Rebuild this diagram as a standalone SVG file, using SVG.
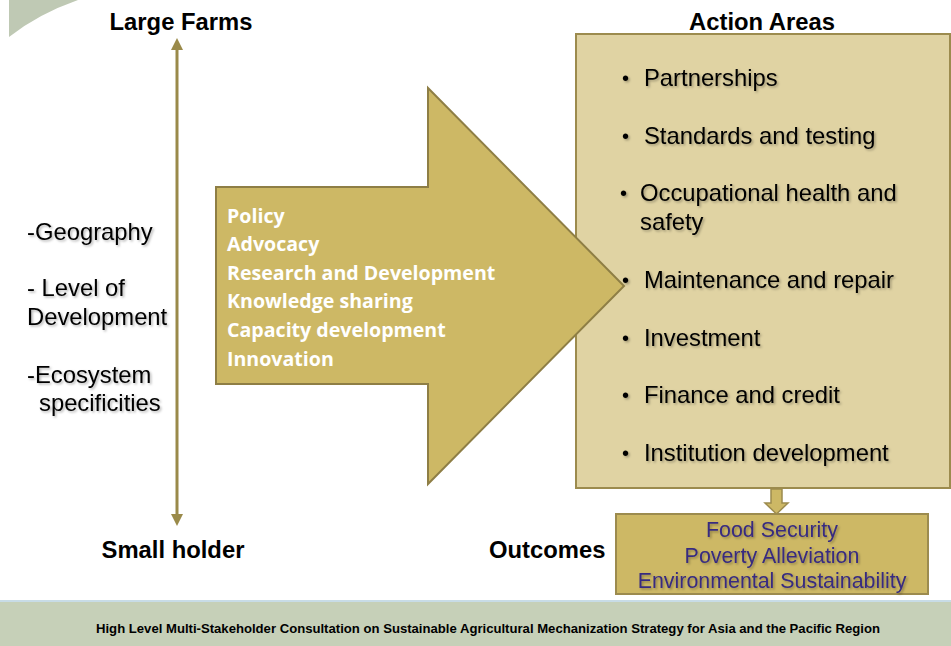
<svg xmlns="http://www.w3.org/2000/svg" width="951" height="646" viewBox="0 0 951 646">
  <defs>
    <filter id="shadow" x="-10%" y="-20%" width="130%" height="160%">
      <feDropShadow dx="1.5" dy="1.5" stdDeviation="0.8" flood-color="#000" flood-opacity="0.3"/>
    </filter>
    <marker id="head" viewBox="0 0 10 10" refX="5" refY="5" markerWidth="4" markerHeight="4" orient="auto-start-reverse" markerUnits="strokeWidth">
      <path d="M0,0 L10,5 L0,10 z" fill="#9a8a4a"/>
    </marker>
  </defs>
  <style>
    .hdr { font-family: "Liberation Sans", Arial, sans-serif; font-weight: bold; font-size: 23.8px; fill: #000; }
    .lbl { font-family: "Liberation Sans", Arial, sans-serif; font-size: 23.8px; fill: #000; }
    .bul { font-family: "Liberation Sans", Arial, sans-serif; font-size: 20px; fill: #000; }
    .drv { font-family: "Open Sans", "Noto Sans", sans-serif; font-weight: bold; font-size: 19.6px; fill: #fff; }
    .out { font-family: "Liberation Sans", Arial, sans-serif; font-size: 21.4px; fill: #372c80; text-anchor: middle; }
    .foot { font-family: "Liberation Sans", Arial, sans-serif; font-weight: bold; font-size: 12px; fill: #000; }
  </style>

  <rect width="951" height="646" fill="#fff"/>

  <!-- corner ornament -->
  <path d="M9,0 L78,0 Q38,14 9,37 Z" fill="#bfc9b4"/>

  <!-- scale headings -->
  <text class="hdr" x="181" y="30" text-anchor="middle">Large Farms</text>
  <text class="hdr" x="173" y="558" text-anchor="middle">Small holder</text>
  <text class="hdr" x="762" y="30" text-anchor="middle">Action Areas</text>
  <text class="hdr" x="489" y="558">Outcomes</text>

  <!-- action areas -->
  <g id="action-areas">
    <rect x="576" y="34" width="374" height="454" fill="#e0d3a3" stroke="#9c8b4e" stroke-width="2"/>
    <g filter="url(#shadow)">
      <text class="bul" x="622" y="85">•</text><text class="lbl" x="644" y="86">Partnerships</text>
      <text class="bul" x="622" y="143">•</text><text class="lbl" x="644" y="144">Standards and testing</text>
      <text class="bul" x="620" y="200">•</text><text class="lbl" x="640" y="201">Occupational health and</text>
      <text class="lbl" x="640" y="230">safety</text>
      <text class="bul" x="622" y="287">•</text><text class="lbl" x="644" y="288">Maintenance and repair</text>
      <text class="bul" x="622" y="345">•</text><text class="lbl" x="644" y="346">Investment</text>
      <text class="bul" x="622" y="402">•</text><text class="lbl" x="644" y="403">Finance and credit</text>
      <text class="bul" x="622" y="460">•</text><text class="lbl" x="644" y="461">Institution development</text>
    </g>
  </g>

  <!-- connectors -->
  <g id="connectors">
    <line x1="177" y1="44" x2="177" y2="520" stroke="#9a8a4a" stroke-width="3" marker-start="url(#head)" marker-end="url(#head)"/>
    <path d="M771,489 L782,489 L782,503 L788,503 L776.5,514 L765,503 L771,503 Z" fill="#cdb865" stroke="#9c8b4e" stroke-width="1.5"/>
  </g>

  <!-- scale factors -->
  <g id="factors" filter="url(#shadow)">
    <text class="lbl" x="27" y="240">-Geography</text>
    <text class="lbl" x="27" y="296">- Level of</text>
    <text class="lbl" x="27" y="325">Development</text>
    <text class="lbl" x="27" y="383">-Ecosystem</text>
    <text class="lbl" x="39" y="411">specificities</text>
  </g>

  <!-- drivers arrow -->
  <g id="drivers">
    <path d="M216,187 L428,187 L428,88 L624,286 L428,484 L428,384 L216,384 Z" fill="#cdb865" stroke="#8e7e45" stroke-width="2"/>
    <text class="drv" x="227" y="223">Policy</text>
    <text class="drv" x="227" y="251">Advocacy</text>
    <text class="drv" x="227" y="280">Research and Development</text>
    <text class="drv" x="227" y="308">Knowledge sharing</text>
    <text class="drv" x="227" y="337">Capacity development</text>
    <text class="drv" x="227" y="366">Innovation</text>
  </g>

  <!-- outcomes -->
  <g id="outcomes">
    <rect x="616" y="514" width="312" height="80" fill="#cdb865" stroke="#9c8b4e" stroke-width="2"/>
    <g filter="url(#shadow)">
      <text class="out" x="772" y="537">Food Security</text>
      <text class="out" x="772" y="563">Poverty Alleviation</text>
      <text class="out" x="772" y="588">Environmental Sustainability</text>
    </g>
  </g>

  <!-- footer band -->
  <g id="footer">
    <rect x="0" y="600" width="951" height="46" fill="#c6d0b8"/>
    <line x1="0" y1="601" x2="951" y2="601" stroke="#c8dce6" stroke-width="2"/>
    <text class="foot" x="96" y="633" textLength="784" lengthAdjust="spacingAndGlyphs">High Level Multi-Stakeholder Consultation on Sustainable Agricultural Mechanization Strategy for Asia and the Pacific Region</text>
  </g>
</svg>
